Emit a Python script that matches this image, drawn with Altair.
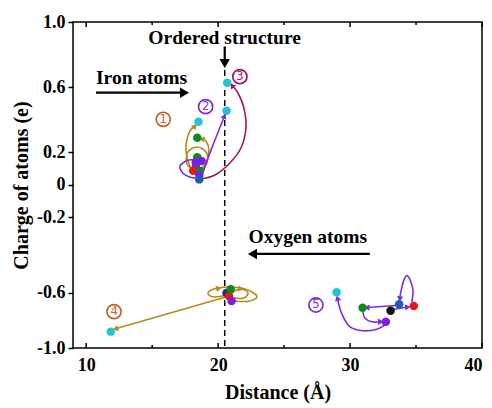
import altair as alt
import pandas as pd

# ---------------- data ----------------
# Iron atoms (charge vs distance)
iron_x = [20.69, 20.64, 18.51, 18.42, 18.42, 18.75, 18.30, 18.32, 18.11, 18.62, 18.57, 18.57]
iron_y = [0.627, 0.455, 0.387, 0.289, 0.169, 0.146, 0.140, 0.115, 0.086, 0.086, 0.060, 0.033]
iron_c = ["#22c4d4", "#22c4d4", "#22c4d4", "#0e8a1c", "#0e8a1c", "#7a1fe0", "#7a1fe0",
          "#7a1fe0", "#e81616", "#0e8a1c", "#7a1fe0", "#1d5fae"]

# Oxygen atoms
oxy_x = [20.64, 20.82, 20.95, 21.02, 11.86, 28.98, 30.95, 32.71, 33.07, 33.72, 34.83]
oxy_y = [-0.603, -0.625, -0.583, -0.661, -0.882, -0.599, -0.710, -0.810, -0.731, -0.685, -0.697]
oxy_c = ["#1a2f70", "#e81616", "#0e8a1c", "#7a1fe0", "#22c4d4", "#22c4d4", "#0e8a1c",
         "#7a1fe0", "#111111", "#1d5fae", "#e81616"]

# Trajectory curves
brown1_x = [18.55, 17.94, 17.56, 17.79, 18.24]
brown1_y = [0.048, 0.103, 0.214, 0.318, 0.361]
brown2_x = [18.47, 19.08, 19.30, 19.08, 18.77]
brown2_y = [0.078, 0.134, 0.214, 0.269, 0.281]
brown3_x = [18.39, 17.64, 17.71, 18.39, 19.08, 19.15, 18.62]
brown3_y = [0.078, 0.127, 0.201, 0.232, 0.201, 0.134, 0.078]
purple2_x = [18.62, 17.79, 17.11, 17.41, 18.24, 18.70, 19.15, 19.61, 20.06, 20.48]
purple2_y = [0.146, 0.152, 0.115, 0.066, 0.041, 0.048, 0.146, 0.244, 0.336, 0.422]
maroon3_x = [18.62, 19.76, 20.89, 21.73, 22.11, 21.95, 21.50, 21.05]
maroon3_y = [0.035, 0.060, 0.134, 0.226, 0.349, 0.472, 0.564, 0.610]
brown4a_x = [20.74, 19.68, 19.23, 19.68, 20.74, 22.03, 22.94, 22.41, 21.27, 20.59]
brown4a_y = [-0.618, -0.632, -0.607, -0.581, -0.571, -0.581, -0.625, -0.661, -0.661, -0.640]
brown4b_x = [21.05, 21.65, 22.26, 21.95, 21.12]
brown4b_y = [-0.604, -0.581, -0.600, -0.640, -0.640]
brown4c_x = [20.59, 12.22]
brown4c_y = [-0.632, -0.862]
p5a_x = [34.68, 34.76, 34.38, 34.08, 33.85, 33.77]
p5a_y = [-0.668, -0.581, -0.512, -0.534, -0.597, -0.647]
p5b_x = [33.47, 31.27]
p5b_y = [-0.694, -0.708]
p5c_x = [33.24, 34.38]
p5c_y = [-0.722, -0.705]
p5d_x = [30.97, 31.12, 31.65, 32.33]
p5d_y = [-0.733, -0.784, -0.811, -0.811]
p5e_x = [32.64, 32.03, 30.97, 29.98, 29.36, 29.04]
p5e_y = [-0.834, -0.865, -0.876, -0.846, -0.750, -0.640]

BROWN, PURPLE, MAROON = "#b58a1e", "#7a2ee0", "#a3165a"

# Arrow heads on the curves
head_x = [18.24, 18.77, 20.48, 21.05, 20.06, 21.73, 12.22, 33.77, 31.27, 34.38, 32.33, 29.04]
head_y = [0.361, 0.281, 0.422, 0.610, -0.578, -0.581, -0.862, -0.647, -0.708, -0.705, -0.811, -0.640]
head_a = [41, 280, 21, 323, 78, 100, 254, 188, 272, 82, 90, 345]
head_c = [BROWN, BROWN, PURPLE, MAROON, BROWN, BROWN, BROWN, PURPLE, PURPLE, PURPLE, PURPLE, PURPLE]

# Black annotation arrows
iron_arrow_x = [10.74, 17.2]
iron_arrow_y = [0.566, 0.566]
oxy_arrow_x = [31.5, 22.9]
oxy_arrow_y = [-0.395, -0.395]
ord_arrow_x = [20.5, 20.5]
ord_arrow_y = [0.850, 0.77]
bighead_x = [17.45, 22.6, 20.5]
bighead_y = [0.566, -0.395, 0.745]
bighead_a = [90, 270, 180]

# Dashed line
dash_x = [20.5]
dash_y1 = [0.705]
dash_y2 = [-1.0]

# Texts
note_text = ["Ordered structure", "Iron atoms", "Oxygen atoms"]
note_x = [20.49, 14.2, 26.8]
note_y = [0.900, 0.656, -0.305]

num_text = ["1", "2", "3", "4", "5"]
num_x = [15.84, 19.05, 21.65, 12.11, 27.41]
num_y = [0.402, 0.480, 0.664, -0.738, -0.690]
num_c = ["#c0652a", PURPLE, MAROON, "#c0652a", PURPLE]

major_ticks = [10, 20, 30, 40]
minor_ticks = [15, 25, 35]
y_ticks = [-1.0, -0.6, -0.2, 0, 0.2, 0.6, 1.0]

# ---------------- tables ----------------
W, H = 409, 326
paths = []
for pid, (xs, ys, col) in enumerate([
    (brown1_x, brown1_y, BROWN), (brown2_x, brown2_y, BROWN), (brown3_x, brown3_y, BROWN),
    (purple2_x, purple2_y, PURPLE), (maroon3_x, maroon3_y, MAROON),
    (brown4a_x, brown4a_y, BROWN), (brown4b_x, brown4b_y, BROWN), (brown4c_x, brown4c_y, BROWN),
    (p5a_x, p5a_y, PURPLE), (p5b_x, p5b_y, PURPLE), (p5c_x, p5c_y, PURPLE),
    (p5d_x, p5d_y, PURPLE), (p5e_x, p5e_y, PURPLE)]):
    for k, (a, b) in enumerate(zip(xs, ys)):
        paths.append({"pid": pid, "k": k, "x": a, "y": b, "c": col})
paths_df = pd.DataFrame(paths)

black = []
for pid, (xs, ys) in enumerate([(iron_arrow_x, iron_arrow_y), (oxy_arrow_x, oxy_arrow_y),
                                (ord_arrow_x, ord_arrow_y)]):
    for k, (a, b) in enumerate(zip(xs, ys)):
        black.append({"pid": pid, "k": k, "x": a, "y": b})
black_df = pd.DataFrame(black)

pts_df = pd.DataFrame({"x": iron_x + oxy_x, "y": iron_y + oxy_y, "c": iron_c + oxy_c})
heads_df = pd.DataFrame({"x": head_x, "y": head_y, "a": head_a, "c": head_c})
bigheads_df = pd.DataFrame({"x": bighead_x, "y": bighead_y, "a": bighead_a})
dash_df = pd.DataFrame({"x": dash_x, "y": dash_y1, "y2": dash_y2})
notes_df = pd.DataFrame({"x": note_x, "y": note_y, "t": note_text})
nums_df = pd.DataFrame({"x": num_x, "y": num_y, "t": num_text, "c": num_c})
major_df = pd.DataFrame({"x": major_ticks})
minor_df = pd.DataFrame({"x": minor_ticks})

FONT = "Liberation Serif"
xs_ = alt.Scale(domain=[9, 40], nice=False, zero=False)
ys_ = alt.Scale(domain=[-1.0, -0.6, -0.2, 1.0], range=[H, 270.5, 195.3, 0], nice=False, zero=False)
xaxis = alt.Axis(values=major_ticks, format="d", tickSize=0, domain=False, grid=False,
                 labelPadding=8, title="Distance (Å)", titlePadding=8)
yaxis = alt.Axis(values=y_ticks, tickSize=5, tickWidth=1.5, tickColor="black", domain=False,
                 grid=False, labelPadding=3, title="Charge of atoms (e)", titlePadding=5,
                 labelExpr="datum.value == 0 ? '0' : (datum.value < 0 ? '-' + format(-datum.value, '.1f') : format(datum.value, '.1f'))")
X = lambda f="x": alt.X(f"{f}:Q", scale=xs_, axis=xaxis)
Y = lambda f="y": alt.Y(f"{f}:Q", scale=ys_, axis=yaxis)

dash = alt.Chart(dash_df).mark_rule(color="black", strokeWidth=1.5, strokeDash=[6, 4]).encode(
    x=X(), y=Y(), y2="y2:Q")

curves = alt.Chart(paths_df).mark_line(interpolate="cardinal", strokeWidth=1.6).encode(
    x=X(), y=Y(), detail="pid:N", order="k:Q", color=alt.Color("c:N", scale=None))

blk = alt.Chart(black_df).mark_line(color="black", strokeWidth=2.2).encode(
    x=X(), y=Y(), detail="pid:N", order="k:Q")

heads = alt.Chart(heads_df).mark_point(shape="triangle-up", filled=True, opacity=1, size=40).encode(
    x=X(), y=Y(), angle=alt.Angle("a:Q", scale=None), color=alt.Color("c:N", scale=None))

bigheads = alt.Chart(bigheads_df).mark_point(shape="triangle-up", filled=True, opacity=1, size=110,
                                             color="black").encode(
    x=X(), y=Y(), angle=alt.Angle("a:Q", scale=None))

pts = alt.Chart(pts_df).mark_circle(size=72, opacity=1).encode(
    x=X(), y=Y(), color=alt.Color("c:N", scale=None))

notes = alt.Chart(notes_df).mark_text(font=FONT, fontWeight="bold", fontSize=19.5, color="black",
                                      baseline="middle", align="center").encode(
    x=X(), y=Y(), text="t:N")

num_rings = alt.Chart(nums_df).mark_point(shape="circle", filled=False, size=200, strokeWidth=1.7,
                                          opacity=1).encode(
    x=X(), y=Y(), stroke=alt.Stroke("c:N", scale=None))

nums = alt.Chart(nums_df).mark_text(font="DejaVu Sans", fontSize=11.5, baseline="middle",
                                    align="center", dy=0.5).encode(
    x=X(), y=Y(), text="t:N", color=alt.Color("c:N", scale=None))

top_major = alt.Chart(major_df).mark_rule(color="black", strokeWidth=1.5).encode(
    x=X(), y=alt.value(0), y2=alt.value(5))
top_minor = alt.Chart(minor_df).mark_rule(color="black", strokeWidth=1.5).encode(
    x=X(), y=alt.value(0), y2=alt.value(3))
bot_major = alt.Chart(major_df).mark_rule(color="black", strokeWidth=1.5).encode(
    x=X(), y=alt.value(H), y2=alt.value(H - 5))
bot_minor = alt.Chart(minor_df).mark_rule(color="black", strokeWidth=1.5).encode(
    x=X(), y=alt.value(H), y2=alt.value(H - 3))

chart = alt.layer(dash, curves, blk, heads, bigheads, pts, notes, num_rings, nums,
                  top_major, top_minor, bot_major, bot_minor).properties(
    width=W, height=H,
    autosize=alt.AutoSizeParams(type="none"),
    padding={"left": 73, "top": 22, "right": 10, "bottom": 60},
    background="white",
).configure_view(stroke="black", strokeWidth=1.5).configure_axis(
    labelFont=FONT, labelFontWeight="bold", labelFontSize=18, labelColor="black",
    titleFont=FONT, titleFontWeight="bold", titleFontSize=20, titleColor="black",
)

chart.save("out.html", embed_options={"renderer": "svg", "actions": False})
